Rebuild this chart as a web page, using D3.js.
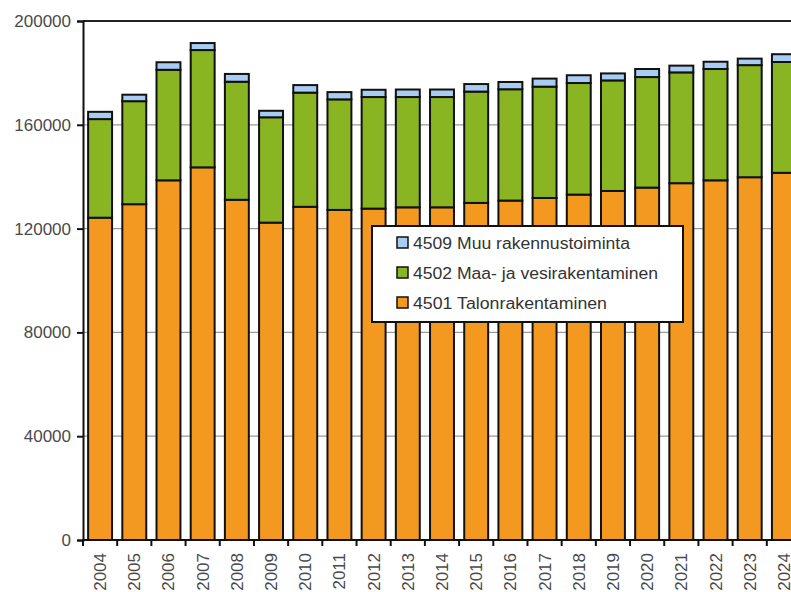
<!DOCTYPE html>
<html>
<head>
<meta charset="utf-8">
<script src="https://cdn.jsdelivr.net/npm/d3@7"></script>
<style>
  body { margin: 0; background: #fff; }
  text { font-family: "Liberation Sans", Arial, sans-serif; }
</style>
</head>
<body>
<div id="chart"></div>
<script>
// Years on the x axis
var years = ['2004', '2005', '2006', '2007', '2008', '2009', '2010', '2011', '2012', '2013', '2014',
             '2015', '2016', '2017', '2018', '2019', '2020', '2021', '2022', '2023', '2024'];

// Series, bottom to top of the stack
var talo = [124200, 129400, 138600, 143600, 131100, 122300, 128400, 127200, 127700, 128200, 128200,
            129900, 130800, 131800, 133100, 134500, 135800, 137500, 138600, 139800, 141500];
var maaVesi = [38000, 39700, 42600, 45200, 45500, 40600, 44000, 42600, 43000, 42500, 42500,
               42900, 42900, 42900, 43000, 42600, 42600, 42700, 42900, 43200, 42700];
var muu = [2800, 2500, 2900, 2700, 3000, 2500, 2900, 2800, 2800, 2900, 2900,
           2900, 2800, 3100, 3000, 2700, 3100, 2600, 2800, 2500, 3000];

var yTicks = [0, 40000, 80000, 120000, 160000, 200000];

var seriesNames = ['4501 Talonrakentaminen', '4502 Maa- ja vesirakentaminen', '4509 Muu rakennustoiminta'];
var colors = ['#F4991F', '#8AB523', '#A9CCF2'];

(function() {
  var W = 791, H = 592;
  var mLeft = 83, mRight = 801, mTop = 21, mBottom = 540;

  var svg = d3.select('#chart').append('svg')
      .attr('width', W)
      .attr('height', H);

  var x = d3.scaleBand().domain(years).range([mLeft, mRight])
      .paddingInner(0.3).paddingOuter(0.15);
  var y = d3.scaleLinear().domain([0, 200000]).range([mBottom, mTop]);
  var step = x.step();

  // gridlines
  svg.selectAll('.grid')
      .data(yTicks.slice(1, -1)).enter()
      .append('line')
        .attr('x1', mLeft).attr('x2', W)
        .attr('y1', function(d) { return y(d); })
        .attr('y2', function(d) { return y(d); })
        .attr('stroke', '#9a9a9a')
        .attr('stroke-width', 1.2);

  // stack the data
  var rows = years.map(function(yr, i) {
    return { year: yr, s0: talo[i], s1: maaVesi[i], s2: muu[i] };
  });
  var stacked = d3.stack().keys(['s0', 's1', 's2'])(rows);

  svg.selectAll('.layer')
      .data(stacked).enter()
      .append('g')
        .attr('fill', function(d, i) { return colors[i]; })
      .selectAll('rect')
      .data(function(d) { return d; }).enter()
      .append('rect')
        .attr('x', function(d) { return x(d.data.year); })
        .attr('width', x.bandwidth())
        .attr('y', function(d) { return y(d[1]); })
        .attr('height', function(d) { return y(d[0]) - y(d[1]); })
        .attr('stroke', '#111')
        .attr('stroke-width', 2);

  // top border
  svg.append('line')
      .attr('x1', mLeft).attr('x2', W)
      .attr('y1', mTop).attr('y2', mTop)
      .attr('stroke', '#222').attr('stroke-width', 2);

  // y axis
  var yAxis = d3.axisLeft(y).tickValues(yTicks).tickSize(6).tickPadding(6)
      .tickFormat(d3.format('d'));
  var gy = svg.append('g').attr('transform', 'translate(' + mLeft + ',0)').call(yAxis);
  gy.select('.domain').attr('stroke', '#111').attr('stroke-width', 2);
  gy.selectAll('.tick line').attr('stroke', '#111').attr('stroke-width', 2);
  gy.selectAll('.tick text')
      .attr('fill', '#4a4a4a')
      .style('font-size', '17px');

  // x axis: ticks at band boundaries
  svg.append('line')
      .attr('x1', mLeft).attr('x2', W)
      .attr('y1', mBottom).attr('y2', mBottom)
      .attr('stroke', '#111').attr('stroke-width', 2);

  svg.selectAll('.xtick')
      .data(years).enter()
      .append('line')
        .attr('x1', function(d) { return x(d) - step * 0.15; })
        .attr('x2', function(d) { return x(d) - step * 0.15; })
        .attr('y1', mBottom).attr('y2', mBottom + 6)
        .attr('stroke', '#111').attr('stroke-width', 2);

  svg.selectAll('.xlabel')
      .data(years).enter()
      .append('text')
        .attr('transform', function(d) {
          return 'translate(' + (x(d) + x.bandwidth() / 2 + 6) + ',' + (mBottom + 13) + ') rotate(-90)';
        })
        .attr('text-anchor', 'end')
        .attr('fill', '#4a4a4a')
        .style('font-size', '17px')
        .text(function(d) { return d; });

  // legend
  var legend = svg.append('g');
  legend.append('rect')
      .attr('x', 372).attr('y', 226)
      .attr('width', 311).attr('height', 96)
      .attr('fill', '#fff')
      .attr('stroke', '#111').attr('stroke-width', 2);

  var legendItems = [2, 1, 0];
  var legendWidths = { 2: 217, 1: 245, 0: 194 };
  legend.selectAll('.item')
      .data(legendItems).enter()
      .append('g')
        .attr('transform', function(d, i) { return 'translate(397,' + (243 + i * 30) + ')'; })
      .each(function(d) {
        var g = d3.select(this);
        g.append('rect')
            .attr('x', 0).attr('y', -6)
            .attr('width', 11).attr('height', 11)
            .attr('fill', colors[d])
            .attr('stroke', '#111').attr('stroke-width', 1.5);
        g.append('text')
            .attr('x', 16).attr('y', 6)
            .attr('fill', '#333')
            .attr('textLength', legendWidths[d])
            .attr('lengthAdjust', 'spacingAndGlyphs')
            .style('font-size', '16px')
            .text(seriesNames[d]);
      });
})();
</script>
</body>
</html>
